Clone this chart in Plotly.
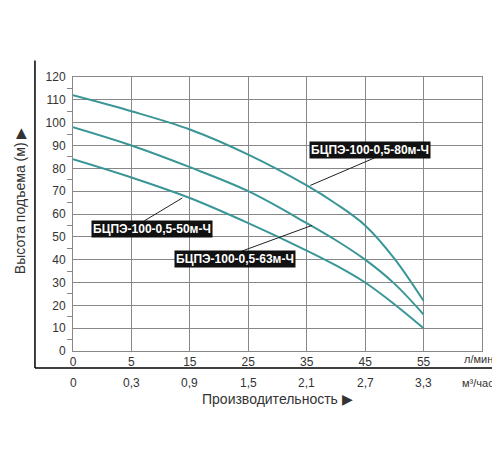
import plotly.graph_objects as go

pos = [0, 1, 2, 3, 4, 5, 6]
flow_lmin = ["0", "5", "15", "25", "35", "45", "55"]
flow_m3h = ["0", "0,3", "0,9", "1,5", "2,1", "2,7", "3,3"]
x_pts = [0, 1, 2, 3, 4, 4.5, 5, 5.5, 6]
h80 = [112, 105, 97, 86, 72.5, 64.5, 55, 40.5, 22]
h63 = [98, 90, 80.5, 70, 56, 48.5, 40, 29.5, 16]
h50 = [84, 76, 67, 56, 44, 37.5, 30, 20.5, 10]
labels = ["БЦПЭ-100-0,5-80м-Ч", "БЦПЭ-100-0,5-63м-Ч", "БЦПЭ-100-0,5-50м-Ч"]

teal = "#3a9696"
fig = go.Figure()
for ys, name in zip([h80, h63, h50], labels):
    fig.add_trace(go.Scatter(x=x_pts, y=ys, mode="lines", name=name,
                             line=dict(color=teal, width=2, shape="spline", smoothing=1.0)))

font = dict(family="Liberation Sans, Arial", size=12, color="#333")
fig.update_layout(
    width=500, height=450, showlegend=False,
    plot_bgcolor="white", paper_bgcolor="white",
    margin=dict(l=65, r=26, t=69, b=107),
    font=font,
    xaxis=dict(range=[0, 7], tickvals=pos, ticktext=flow_lmin, showgrid=True,
               gridcolor="#888", gridwidth=1, showline=True, linecolor="#888",
               mirror=True, zeroline=False, ticks="", tickfont=dict(size=12, color="#333")),
    yaxis=dict(range=[0, 120], dtick=10, showgrid=True, gridcolor="#888",
               showline=True, linecolor="#888", mirror=True, zeroline=False,
               ticks="", tickfont=dict(size=12, color="#333"), ticklabelstandoff=4,
               minor=dict(dtick=5, ticks="outside", ticklen=5, tickcolor="#888", showgrid=False)),
)
fig.add_shape(type="line", xref="paper", yref="paper", x0=-0.093, x1=-0.093, y0=1.06, y1=-0.062,
              line=dict(color="black", width=1.5))
fig.add_shape(type="line", xref="paper", yref="paper", x0=-0.093, x1=1.07, y0=-0.062, y1=-0.062,
              line=dict(color="black", width=1.5))
for p, t in zip(pos, flow_m3h):
    fig.add_annotation(x=p, xref="x", y=-0.115, yref="paper", text=t, showarrow=False,
                       font=font, yanchor="middle")
fig.add_annotation(x=0.995, xref="paper", y=-0.03, yref="paper", text="л/мин.", showarrow=False,
                   font=dict(size=11, color="#333"), yanchor="middle", xanchor="center")
fig.add_annotation(x=0.995, xref="paper", y=-0.115, yref="paper", text="м³/час.", showarrow=False,
                   font=dict(size=11, color="#333"), yanchor="middle", xanchor="center")
fig.add_annotation(x=0.5, xref="paper", y=-0.175, yref="paper", text="Производительность ▶",
                   showarrow=False, font=dict(size=14, color="#333"), yanchor="middle")
fig.add_annotation(x=-0.13, xref="paper", y=0.55, yref="paper", text="Высота подъема (м) ▶",
                   showarrow=False, textangle=-90, font=dict(size=14, color="#333"),
                   xanchor="center", yanchor="middle")

boxes = [(labels[0], 5.08, 88, (5.2, 85), (4.06, 72.5)),
         (labels[2], 1.36, 53.5, (1.22, 57), (1.87, 67)),
         (labels[1], 2.77, 40.5, (2.81, 43), (4.09, 55))]
for text, bx, by, a, b in boxes:
    fig.add_shape(type="line", x0=a[0], y0=a[1], x1=b[0], y1=b[1], line=dict(color="#222", width=1))
    fig.add_annotation(x=bx, y=by, text="<b>" + text + "</b>", showarrow=False, bgcolor="#111",
                       font=dict(size=12, color="white", family="Liberation Sans, Arial"),
                       borderpad=1)

fig.write_html("out.html")
